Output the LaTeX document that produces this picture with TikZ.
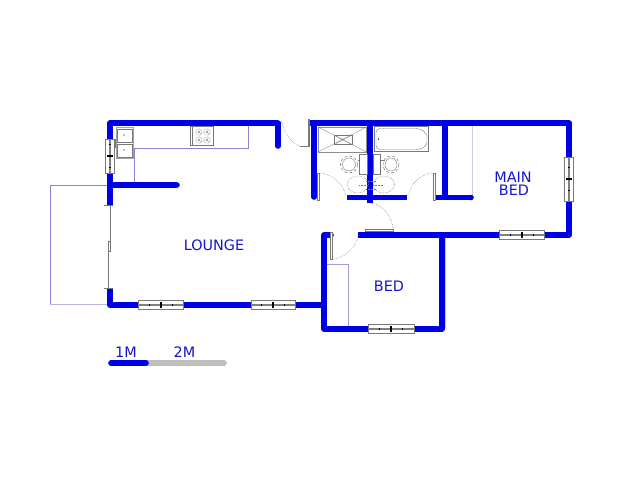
\documentclass[tikz,border=0pt]{standalone}
\usepackage{fontspec}
\setmainfont{DejaVu Sans}
\definecolor{wallc}{RGB}{0,0,230}
\definecolor{labelc}{RGB}{20,20,205}
\definecolor{cupc}{RGB}{140,130,210}
\definecolor{cuplight}{RGB}{205,205,240}
\definecolor{fixc}{RGB}{120,120,120}
\definecolor{barc}{RGB}{190,190,190}
\tikzset{
  wall/.style={draw=wallc,line width=5.6pt,line cap=round,line join=round},
  wallbutt/.style={draw=wallc,line width=5.6pt,line join=round},
  cup/.style={draw=cupc,line width=0.75pt},
  fix/.style={draw=fixc,line width=0.5pt},
  swing/.style={draw=black!70,line width=0.4pt,densely dotted},
  leaf/.style={draw=fixc,line width=0.8pt,fill=white},
  lab/.style={text=labelc,font=\fontsize{14.4pt}{14pt}\selectfont,inner sep=0pt},
  winbox/.style={draw=fixc,fill=white,line width=0.6pt}
}
\newcommand{\hwin}[3]{% x1 x2 y
  \draw[winbox] (#1,#3-4.5) rectangle (#2,#3+4.5);
  \draw[draw=gray,line width=1.5pt] (#1,#3) -- (#2,#3);
  \fill[black] ({(#1+#2)/2-1},#3-2.8) rectangle ({(#1+#2)/2+1},#3+2.8);
  \fill[black] ({(#1+#2)/2-12},#3-.8) rectangle ({(#1+#2)/2-11},#3+.8);
  \fill[black] ({(#1+#2)/2+11},#3-.8) rectangle ({(#1+#2)/2+12},#3+.8);
}
\newcommand{\vwin}[3]{% y1 y2 x
  \draw[winbox] (#3-4.5,#1) rectangle (#3+4.5,#2);
  \draw[draw=gray,line width=1.5pt] (#3,#1) -- (#3,#2);
  \fill[black] (#3-2.8,{(#1+#2)/2-1}) rectangle (#3+2.8,{(#1+#2)/2+1});
  \fill[black] (#3-.8,{(#1+#2)/2-12}) rectangle (#3+.8,{(#1+#2)/2-11});
  \fill[black] (#3-.8,{(#1+#2)/2+11}) rectangle (#3+.8,{(#1+#2)/2+12});
}
\begin{document}
\begin{tikzpicture}[x=1pt,y=-1pt]
\useasboundingbox (0,0) rectangle (640,480);
% light fitted lines
\draw[cup] (110,185) -- (50,185) -- (50,304);
\draw[draw=cupc!60,line width=0.75pt] (50,304) -- (110,304);
\draw[cup] (134,185) -- (134,148) -- (248,148) -- (248,125);
\draw[draw=cuplight,line width=1pt] (472,125) -- (472,196);
\draw[cup,draw=cupc!80] (327,264) -- (348,264) -- (348,327);
\draw[draw=cuplight,line width=1pt] (445.3,237) -- (445.3,328);
% walls
\draw[wallbutt,line cap=butt] (110,205) -- (110,123) -- (278,123);
\draw[wall] (278,123) -- (278,146);
\draw[wallbutt] (110,185) -- (177,185);
\draw[wall] (177,185) -- (177,185);
\draw[wallbutt] (110,288) -- (110,305) -- (324,305);
\draw[wallbutt] (310,123) -- (569,123) -- (569,235) -- (358,235);
\draw[wall] (314,123) -- (314,197);
\draw[draw=white,line width=1pt] (317.5,173) -- (317.5,200);
\draw[wallbutt] (370,123) -- (370,203);
\draw[wallbutt] (445,123) -- (445,197);
\draw[wallbutt] (347,197.5) -- (407,197.5);
\draw[wallbutt] (436,197.5) -- (471,197.5);
\draw[wall] (471,197.5) -- (471,197.5);
\draw[wall] (331,235) -- (324,235) -- (324,329) -- (442,329) -- (442,235);
% windows
\vwin{139}{173}{110}
\hwin{138}{183}{305}
\hwin{251}{295}{305}
\hwin{368}{414}{329}
\hwin{499}{544}{235}
\vwin{157}{201}{569}
% sliding door
\draw[fix,line width=.8pt] (104,205) -- (113,205);
\draw[fix,line width=.8pt] (104,288) -- (113,288);
\draw[leaf] (108,241) rectangle (110.7,251);
\draw[fix,line width=1pt] (110.7,205) -- (110.7,251);
\draw[fix,line width=1pt] (108,241) -- (108,288);
% doors
\draw[leaf,line width=.6pt] (308,119) rectangle (309.5,146);
\draw[fix] (300,146) -- (308,146);
\draw[swing] (300,146) .. controls (291,143) and (284,133) .. (281,120);
\draw[leaf,line width=.6pt] (317.5,173) rectangle (319,200);
\draw[swing] (319,173) .. controls (333,174) and (344,184) .. (346,197);
\draw[leaf,line width=.6pt] (433,173) rectangle (435,200);
\draw[swing] (433,173) .. controls (420,174) and (410,184) .. (408,197);
\draw[leaf,line width=.6pt] (365,229) rectangle (393,231);
\draw[swing] (393,229) .. controls (392,216) and (383,205) .. (371,203);
\draw[leaf,line width=.6pt] (330.5,232) rectangle (332,259);
\draw[swing] (332,259) .. controls (345,258) and (356,248) .. (358,236);
% sink
\draw[fix,draw=black!35,fill=white] (116,127) rectangle (133,158);
\draw[fix] (117,129) rectangle (132,142);
\draw[fix] (117,144) rectangle (132,157);
\fill[fixc] (124,135) circle (.8);
\fill[fixc] (124,150) circle (.8);
\draw[fix,line width=.8pt] (115,139) -- (115,148);
% stove
\draw[fix] (190.5,126) rectangle (213,145.5);
\draw[fix] (192,126) -- (192,145.5);
\foreach \sx/\sy in {199/132, 207/132, 199/140, 207/140}{
  \draw[fix,densely dotted,line width=.7pt] (\sx,\sy) circle (3.2);
  \draw[fix,line width=.4pt] (\sx,\sy) circle (1.2);
}
% shower
\draw[fix,draw=black!45,line width=.4pt] (318,127) rectangle (366.5,152);
\draw[fix,line width=.3pt] (318,127) -- (366.5,152) (318,152) -- (366.5,127);
\draw[fix,line width=.5pt] (334.5,135) rectangle (352,144.5);
\draw[fix,line width=.3pt] (334.5,135) -- (352,144.5) (334.5,144.5) -- (352,135);
% bath
\draw[fix] (374,126.5) rectangle (428.5,151.5);
\draw[fix,line width=.4pt,rounded corners=4pt] (376,128.5) -- (420,128.5) .. controls (425,132) and (427,136) .. (427,139) .. controls (427,143) and (425,147) .. (420,149.5) -- (376,149.5) -- cycle;
\fill[black!70] (378.5,139) circle (.8);
% toilets
\draw[fix,fill=white] (359.5,154) rectangle (367,174);
\draw[fix,fill=white] (373.5,154) rectangle (380,174);
\draw[fix,densely dashed] (349,164.5) ellipse (8.5 and 8.5);
\draw[fix,line width=.4pt] (349,164.5) ellipse (6.5 and 6.5);
\draw[fix,densely dashed] (391,164.5) ellipse (8 and 8.5);
\draw[fix,line width=.4pt] (391,164.5) ellipse (6 and 6.5);
\draw[fix,line width=.4pt] (357.5,160) -- (359.5,160) (380,160) -- (385,160);
% basins
\draw[fix,densely dotted,line width=.6pt] (358,184.5) ellipse (10.5 and 8.5);
\draw[fix,densely dotted,line width=.6pt] (384,184.5) ellipse (10.5 and 8.5);
\draw[fix,densely dotted,line width=.8pt] (359,185) -- (368,185) (373,185) -- (383,185);
\draw[fix,densely dotted,line width=1pt] (366,181) -- (376,181) (366,189) -- (376,189);
% labels
\node[lab] (lounge) at (214,245) {LOUNGE};
\node[lab] (main) at (513,177.5) {MAIN};
\node[lab] (mainbed) at (514,190.5) {BED};
\node[lab] (bed) at (389,286) {BED};
\node[lab] (one) at (126,352.5) {1M};
\node[lab] (two) at (184.5,352.5) {2M};
% scale bar
\draw[draw=barc,line width=5.6pt,line cap=round] (147,363) -- (224,363);
\draw[wall] (111,363) -- (146,363);
\end{tikzpicture}
\end{document}
